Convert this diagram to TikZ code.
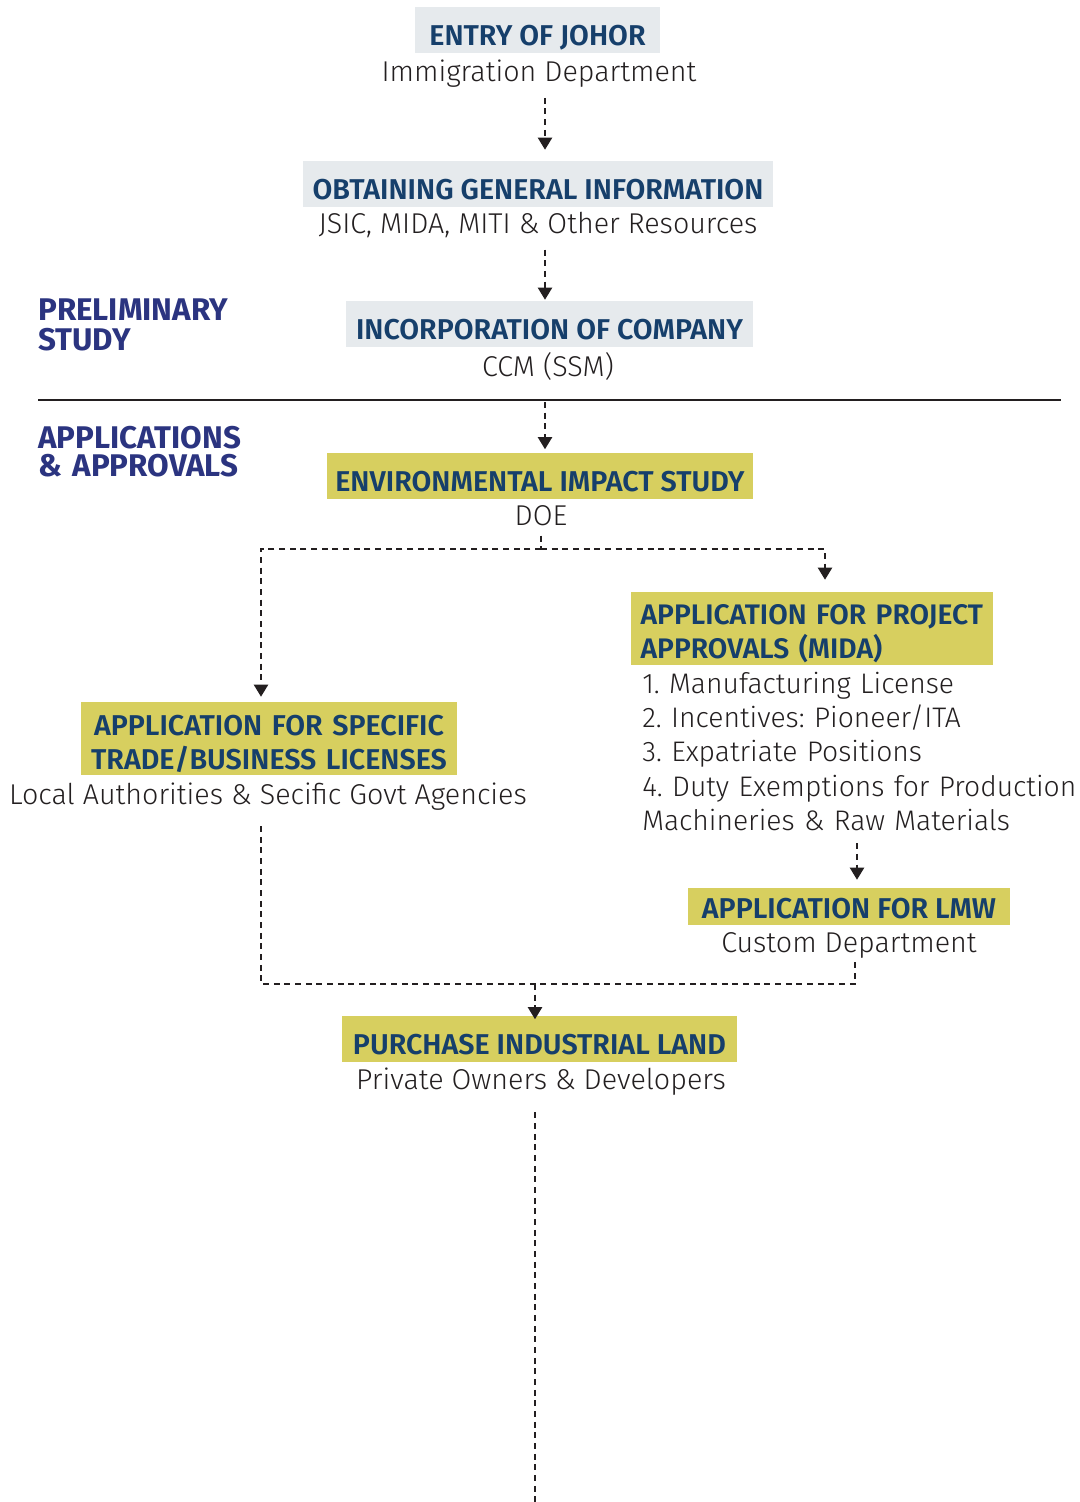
\documentclass[tikz,border=0pt]{standalone}
\usepackage{fontspec}
\setmainfont{Fira Sans Light}[BoldFont=Fira Sans SemiBold]
\newfontfamily\sectionfont{Fira Sans}
\usetikzlibrary{arrows.meta}

\definecolor{titleblue}{HTML}{163F6B}
\definecolor{sectionblue}{HTML}{2B3480}
\definecolor{boxgray}{HTML}{E6EAED}
\definecolor{boxyellow}{HTML}{D7CF5F}
\definecolor{inkblack}{HTML}{231F20}

\begin{document}
\frenchspacing
\begin{tikzpicture}[x=0.75pt, y=-0.75pt,
  every node/.style={font=\fontsize{21.5}{25.5}\selectfont, text=inkblack},
  box/.style={font=\fontsize{21.5}{25.5}\selectfont\bfseries, text=titleblue, inner xsep=0pt, inner ysep=0pt},
  onebox/.style={box, text height=29pt, text depth=5.5pt},
  twobox/.style={box, fill=boxyellow, text height=24pt, text depth=30.75pt},
  graybox/.style={onebox, fill=boxgray},
  yellowbox/.style={onebox, fill=boxyellow},
  sub/.style={inner sep=0pt, anchor=base},
  section/.style={font=\fontsize{23.5}{22.5}\sectionfont\bfseries, text=sectionblue, text width=220pt, align=left, anchor=base west, inner sep=0pt},
  flow/.style={dashed, dash pattern=on 4.5pt off 3.5pt, line width=1.5pt, draw=inkblack, -{Triangle[width=10.5pt,length=9pt]}},
  link/.style={flow, -}
]
  \useasboundingbox (0,0) rectangle (1079,1502);

  % stage labels
  \node[section] (prelim) at (38,320) {PRELIMINARY\\STUDY};
  \node[section, font=\fontsize{23.5}{21.5}\sectionfont\bfseries] (apps) at (38,448) {APPLICATIONS\\\& APPROVALS};
  \draw[line width=1.5pt, inkblack] (38,400) coordinate (rulel) -- (1061,400) coordinate (ruler);

  % preliminary study
  \node[graybox, minimum width=183.75pt] (entry) at (537.5,30) {ENTRY OF JOHOR};
  \node[sub] (entrysub) at (539,81) {Immigration Department};
  \node[graybox, minimum width=352.5pt] (info) at (538,184) {OBTAINING GENERAL INFORMATION};
  \node[sub] (infosub) at (538,233) {JSIC, MIDA, MITI \& Other Resources};
  \node[graybox, minimum width=305.25pt] (corp) at (549.5,324) {INCORPORATION OF COMPANY};
  \node[sub] (corpsub) at (548,376) {CCM (SSM)};

  % applications and approvals
  \node[yellowbox, minimum width=319.5pt] (eia) at (540,475.5) {ENVIRONMENTAL IMPACT STUDY};
  \node[sub] (eiasub) at (541,525) {DOE};
  \node[twobox, text width=257pt, inner xsep=7.25pt, align=left, font=\fontsize{21.2}{25.5}\selectfont\bfseries] (mida) at (812,628.5) {APPLICATION FOR PROJECT\\APPROVALS (MIDA)};
  \node[sub, anchor=base west, text width=330pt, align=left, font=\fontsize{21.2}{25.8}\selectfont] (midalist) at (642,693)
    {1. Manufacturing License\\2. Incentives: Pioneer/ITA\\3. Expatriate Positions\\4. Duty Exemptions for Production\\Machineries \& Raw Materials};
  \node[twobox, text width=282pt, align=center, text height=25pt, text depth=29.75pt] (trade) at (269,738.5) {APPLICATION FOR SPECIFIC\\TRADE/BUSINESS LICENSES};
  \node[sub] (tradesub) at (268,804) {Local Authorities \& Secific Govt Agencies};
  \node[yellowbox, minimum width=241.5pt, text height=22.5pt, text depth=5.25pt] (lmw) at (849,906.5) {APPLICATION FOR LMW};
  \node[sub] (lmwsub) at (849,952) {Custom Department};
  \node[yellowbox, minimum width=296.25pt] (land) at (539.5,1038.5) {PURCHASE INDUSTRIAL LAND};
  \node[sub] (landsub) at (541,1089) {Private Owners \& Developers};

  % connectors
  \coordinate (spine) at (545,0);
  \coordinate (split) at (541,549);
  \coordinate (join) at (535,984);
  \draw[flow, shorten <=8pt, shorten >=8.25pt] (entrysub.south -| spine) -- (info.north -| spine);
  \draw[flow, shorten <=9pt, shorten >=0.75pt] (infosub.south -| spine) -- (corp.north -| spine);
  \draw[flow, shorten <=1.5pt, shorten >=2.25pt] (rulel -| spine) -- (eia.north -| spine);
  \draw[link, shorten <=7.5pt] (eiasub.south) -- (split);
  \draw[flow, shorten >=9pt] (split) -| (mida.north -| 825,0);
  \draw[flow, shorten >=3.75pt] (split) -| (trade.north -| 261,0);
  \draw[flow, shorten <=9pt, shorten >=6pt] (midalist.south -| 857,0) -- (lmw.north -| 857,0);
  \draw[link, shorten <=12pt] (tradesub.south -| 261,0) |- (join) -| (lmwsub.south -| 855,0);
  \draw[flow, shorten >=-3pt] (join) -- (land.north -| join);
  \draw[link, shorten <=13pt] (landsub.south -| join) -- (535,1502);
\end{tikzpicture}
\end{document}
